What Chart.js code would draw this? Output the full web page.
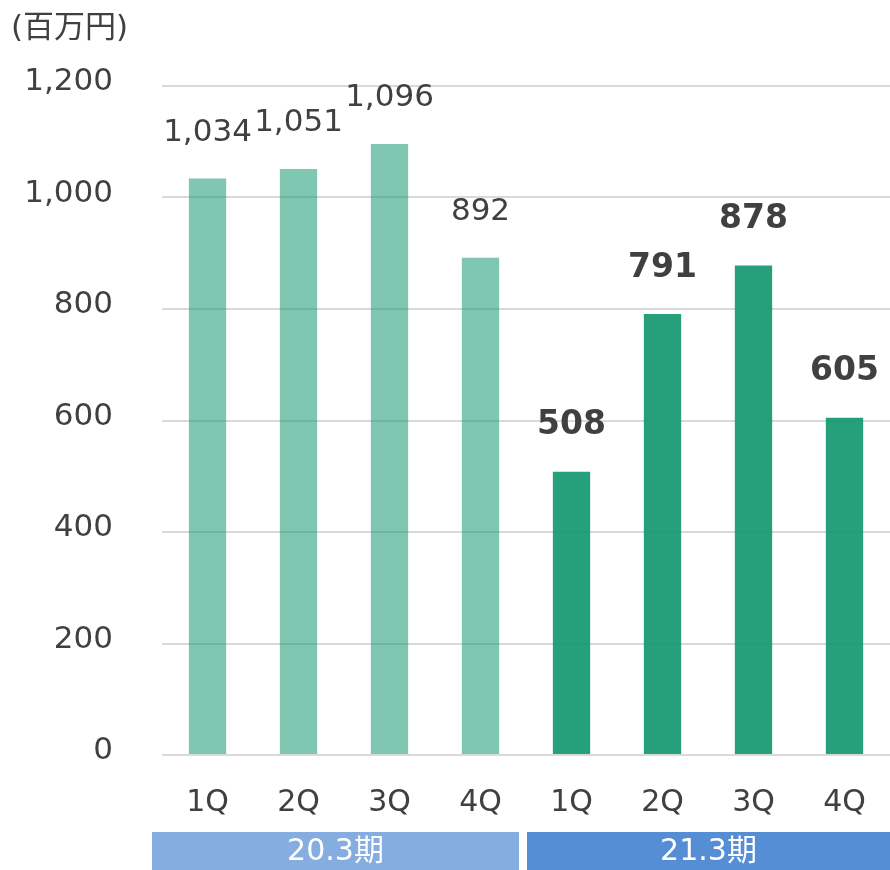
<!DOCTYPE html>
<html><head><meta charset="utf-8">
<script src="https://cdn.jsdelivr.net/npm/chart.js@4/dist/chart.umd.min.js"></script>
<style>html,body{margin:0;padding:0;background:#fff;}#wrap{position:relative;width:890px;height:870px;}</style>
</head><body><div id="wrap"><canvas id="c" width="890" height="870"></canvas></div>
<script>
const categories = ["1Q","2Q","3Q","4Q","1Q","2Q","3Q","4Q"];
const values = [1034, 1051, 1096, 892, 508, 791, 878, 605];
const periodLabels = ["20.3期", "21.3期"];
const periodIndex = [0,0,0,0,1,1,1,1];
const yTicks = [0, 200, 400, 600, 800, 1000, 1200];
const unitLabel = "(百万円)";

const FONT = "'DejaVu Sans', 'Noto Sans CJK JP', sans-serif";
const barColors = periodIndex.map(p => p === 0 ? 'rgba(26,155,115,0.56)' : 'rgba(26,155,115,0.95)');
const bandColors = ['#86ADDF', '#558ED5'];

const fmt = v => v.toLocaleString('en-US');

const labelPlugin = {
  id: 'labels',
  afterDatasetsDraw(chart) {
    const ctx = chart.ctx;
    const meta = chart.getDatasetMeta(0);
    ctx.save();
    ctx.textAlign = 'center';
    ctx.textBaseline = 'middle';
    ctx.fillStyle = '#404040';
    meta.data.forEach((bar, i) => {
      const bold = periodIndex[i] === 1;
      ctx.font = (bold ? 'bold 33px ' : '31px ') + FONT;
      ctx.fillText(fmt(values[i]), bar.x, bar.y - 46);
    });
    // unit label
    ctx.textAlign = 'left';
    ctx.font = '31px ' + FONT;
    ctx.fillText(unitLabel, 11, 29);
    // period bands
    const xs = chart.scales.x;
    const step = xs.getPixelForValue(1) - xs.getPixelForValue(0);
    periodLabels.forEach((lab, p) => {
      const idx = periodIndex.map((v, i) => v === p ? i : -1).filter(i => i >= 0);
      const first = idx[0], last = idx[idx.length - 1];
      let x0 = xs.getPixelForValue(first) - step / 2 + 1;
      let x1 = xs.getPixelForValue(last) + step / 2 - 7;
      if (p === 0) x0 = xs.getPixelForValue(first) - step / 2 - 10;
      if (p === periodLabels.length - 1) x1 = chart.width;
      ctx.fillStyle = bandColors[p];
      ctx.fillRect(x0, 832, x1 - x0, 38);
      ctx.fillStyle = '#ffffff';
      ctx.textAlign = 'center';
      ctx.font = '30px ' + FONT;
      ctx.fillText(lab, (x0 + x1) / 2, 852);
    });
    ctx.restore();
  }
};

new Chart(document.getElementById('c'), {
  type: 'bar',
  data: {
    labels: categories,
    datasets: [{
      data: values,
      backgroundColor: barColors,
      borderWidth: 0,
      categoryPercentage: 1.0,
      barPercentage: 0.41
    }]
  },
  options: {
    responsive: false,
    animation: false,
    devicePixelRatio: 1,
    layout: { padding: { top: 86, right: 0, bottom: 0, left: 0 } },
    plugins: { legend: { display: false }, tooltip: { enabled: false } },
    scales: {
      x: {
        grid: { display: false },
        border: { display: false },
        ticks: { color: '#404040', font: { family: FONT, size: 30 }, padding: 22 },
        afterFit(s) { s.height = 115; }
      },
      y: {
        min: 0, max: 1200,
        afterBuildTicks(s) { s.ticks = yTicks.map(v => ({ value: v })); },
        grid: { color: '#D9D9D9', lineWidth: 2, drawTicks: false },
        border: { display: false },
        ticks: { color: '#404040', font: { family: FONT, size: 31 }, padding: 49, labelOffset: -4,
                 callback: v => fmt(v) },
        afterFit(s) { s.width = 162; }
      }
    }
  },
  plugins: [labelPlugin]
});
</script></body></html>
